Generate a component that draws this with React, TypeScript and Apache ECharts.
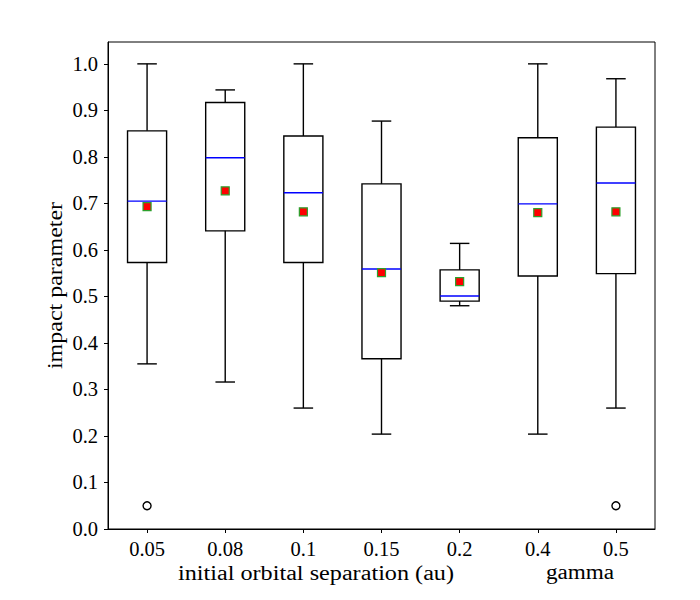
import React, { useEffect, useRef } from "react";
import * as echarts from "echarts";

const categories = ["0.05", "0.08", "0.1", "0.15", "0.2", "0.4", "0.5"];
const whiskerLow = [0.355, 0.316, 0.26, 0.204, 0.48, 0.204, 0.26];
const q1 = [0.573, 0.641, 0.573, 0.366, 0.49, 0.544, 0.549];
const median = [0.705, 0.798, 0.723, 0.559, 0.501, 0.699, 0.744];
const q3 = [0.856, 0.917, 0.845, 0.742, 0.557, 0.841, 0.864];
const whiskerHigh = [1.0, 0.944, 1.0, 0.877, 0.614, 1.0, 0.968];
const means = [0.693, 0.727, 0.682, 0.551, 0.532, 0.68, 0.682];
const outliers: [number, number][] = [
  [0, 0.05],
  [6, 0.05],
];
const xLabelMain = "initial orbital separation (au)";
const xLabelSecond = "gamma";
const yLabel = "impact parameter";

const FONT = "'Liberation Serif', 'DejaVu Serif', serif";

export default function App() {
  const ref = useRef<HTMLDivElement>(null);
  useEffect(() => {
    if (!ref.current) return;
    const chart = echarts.init(ref.current, null, { renderer: "svg" });
    const boxData = categories.map((_, i) => [
      i,
      whiskerLow[i],
      q1[i],
      median[i],
      q3[i],
      whiskerHigh[i],
    ]);
    const lw = 1.4;
    chart.setOption({
      animation: false,
      backgroundColor: "#fff",
      textStyle: { fontFamily: FONT },
      grid: {
        left: 108,
        top: 42,
        width: 547,
        height: 487,
        show: true,
        borderColor: "#000",
        borderWidth: 1,
        backgroundColor: "transparent",
      },
      xAxis: {
        type: "category",
        data: categories,
        boundaryGap: true,
        axisLine: { show: true, lineStyle: { color: "#000", width: 1 } },
        axisTick: { show: true, alignWithLabel: true, length: 4, lineStyle: { color: "#000" } },
        axisLabel: { color: "#000", fontSize: 20.5, fontFamily: FONT, margin: 9 },
        splitLine: { show: false },
      },
      yAxis: {
        type: "value",
        min: 0,
        max: 1.047,
        interval: 0.1,
        axisLine: { show: true, lineStyle: { color: "#000", width: 1 } },
        axisTick: { show: true, length: 4, lineStyle: { color: "#000" } },
        axisLabel: {
          color: "#000",
          fontSize: 20.5,
          fontFamily: FONT,
          margin: 10,
          showMaxLabel: false,
          formatter: (v: number) => (v > 1.001 ? "" : v.toFixed(1)),
        },
        splitLine: { show: false },
      },
      graphic: [
        {
          type: "text",
          x: 316,
          y: 573,
          scaleX: 1.21,
          style: {
            text: xLabelMain,
            font: `20px ${FONT}`,
            fill: "#000",
            textAlign: "center",
            textVerticalAlign: "middle",
          },
        },
        {
          type: "text",
          x: 580,
          y: 573,
          scaleX: 1.16,
          style: {
            text: xLabelSecond,
            font: `20px ${FONT}`,
            fill: "#000",
            textAlign: "center",
            textVerticalAlign: "middle",
          },
        },
        {
          type: "text",
          x: 55,
          y: 285.5,
          rotation: Math.PI / 2,
          scaleX: 1.2,
          style: {
            text: yLabel,
            font: `20px ${FONT}`,
            fill: "#000",
            textAlign: "center",
            textVerticalAlign: "middle",
          },
        },
      ],
      series: [
        {
          type: "custom",
          data: boxData,
          encode: { x: 0, y: [1, 2, 3, 4, 5] },
          renderItem: (params: any, api: any) => {
            const i = api.value(0);
            const lo = api.coord([i, api.value(1)]);
            const b1 = api.coord([i, api.value(2)]);
            const md = api.coord([i, api.value(3)]);
            const b3 = api.coord([i, api.value(4)]);
            const hi = api.coord([i, api.value(5)]);
            const band = api.size([1, 0])[0];
            const bw = band * 0.5;
            const cw = bw * 0.5;
            const cx = lo[0];
            const st = { stroke: "#000", lineWidth: lw, fill: null };
            return {
              type: "group",
              children: [
                { type: "line", shape: { x1: cx, y1: hi[1], x2: cx, y2: b3[1] }, style: st },
                { type: "line", shape: { x1: cx, y1: b1[1], x2: cx, y2: lo[1] }, style: st },
                { type: "line", shape: { x1: cx - cw / 2, y1: hi[1], x2: cx + cw / 2, y2: hi[1] }, style: st },
                { type: "line", shape: { x1: cx - cw / 2, y1: lo[1], x2: cx + cw / 2, y2: lo[1] }, style: st },
                {
                  type: "rect",
                  shape: { x: cx - bw / 2, y: b3[1], width: bw, height: b1[1] - b3[1] },
                  style: { stroke: "#000", lineWidth: lw, fill: "none" },
                },
                {
                  type: "line",
                  shape: { x1: cx - bw / 2, y1: md[1], x2: cx + bw / 2, y2: md[1] },
                  style: { stroke: "#0000ff", lineWidth: lw },
                },
              ],
            };
          },
          z: 2,
        },
        {
          type: "scatter",
          data: means.map((m, i) => [i, m]),
          symbol: "rect",
          symbolSize: 8,
          itemStyle: { color: "#ff0000", borderColor: "#2ca02c", borderWidth: 1.2, opacity: 1 },
          z: 3,
        },
        {
          type: "scatter",
          data: outliers,
          symbol: "circle",
          symbolSize: 8,
          itemStyle: { color: "#fff", borderColor: "#000", borderWidth: 1.4, opacity: 1 },
          z: 3,
        },
      ],
    });
    return () => chart.dispose();
  }, []);
  return (
    <div
      ref={ref}
      style={{ position: "fixed", left: 0, top: 0, width: 700, height: 600, background: "#fff" }}
    />
  );
}
